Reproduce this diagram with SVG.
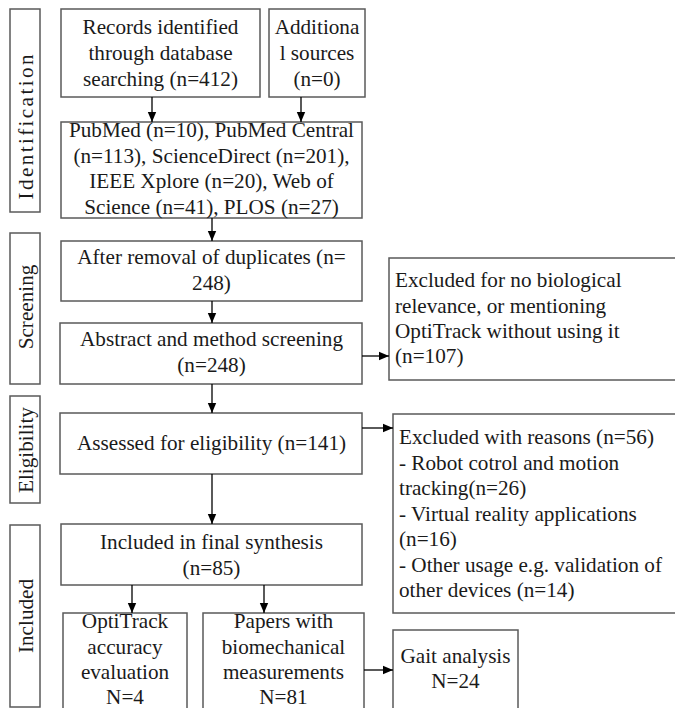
<svg xmlns="http://www.w3.org/2000/svg" width="675" height="708" viewBox="0 0 675 708">
<defs>
<style>
.b{fill:#fff;stroke:#5a5a5a;stroke-width:1.5}
.t{font-family:"Liberation Serif","Times New Roman",serif;font-size:21.2px;fill:#1a1a1a}
.c{text-anchor:middle}
.e{stroke:#000;stroke-width:1.3;fill:none}
</style>
<marker id="ah" markerWidth="10" markerHeight="10" refX="10" refY="5" orient="auto" markerUnits="userSpaceOnUse">
<path d="M0,0.8 L10,5 L0,9.2 Z" fill="#000"/>
</marker>
</defs>
<rect width="675" height="708" fill="#fff"/>
<g id="side-identification"><rect class="b" x="10" y="9" width="30" height="203"/><text class="t c" x="33" y="127" transform="rotate(-90 33 127)" textLength="145" lengthAdjust="spacing">Identification</text></g>
<g id="side-screening"><rect class="b" x="10" y="233" width="30" height="151"/><text class="t c" x="33" y="307" transform="rotate(-90 33 307)">Screening</text></g>
<g id="side-eligibility"><rect class="b" x="10" y="396" width="30" height="107"/><text class="t c" x="33" y="450" transform="rotate(-90 33 450)">Eligibility</text></g>
<g id="side-included"><rect class="b" x="10" y="525" width="30" height="182"/><text class="t c" x="33" y="616" transform="rotate(-90 33 616)">Included</text></g>

<g id="records"><rect class="b" x="61" y="9" width="199" height="88"/><text class="t c"><tspan x="160.5" y="34">Records identified</tspan><tspan x="160.5" y="60">through database</tspan><tspan x="160.5" y="86">searching (n=412)</tspan></text></g>
<g id="additional"><rect class="b" x="269" y="9" width="96" height="88"/><text class="t c"><tspan x="317" y="34">Additiona</tspan><tspan x="317" y="60">l sources</tspan><tspan x="317" y="86">(n=0)</tspan></text></g>
<g id="databases"><rect class="b" x="61" y="122" width="301" height="96"/><text class="t c"><tspan x="211.5" y="137">PubMed (n=10), PubMed Central</tspan><tspan x="211.5" y="162.5">(n=113), ScienceDirect (n=201),</tspan><tspan x="211.5" y="188">IEEE Xplore (n=20), Web of</tspan><tspan x="211.5" y="213.5">Science (n=41), PLOS (n=27)</tspan></text></g>
<g id="duplicates"><rect class="b" x="61" y="241" width="301" height="60"/><text class="t c"><tspan x="211.5" y="264">After removal of duplicates (n=</tspan><tspan x="211.5" y="290">248)</tspan></text></g>
<g id="abstract"><rect class="b" x="60" y="323" width="302" height="61"/><text class="t c"><tspan x="211.5" y="346">Abstract and method screening</tspan><tspan x="211.5" y="372">(n=248)</tspan></text></g>
<g id="excluded1"><rect class="b" x="389" y="258" width="300" height="122"/><text class="t"><tspan x="395" y="287">Excluded for no biological</tspan><tspan x="395" y="312.5">relevance, or mentioning</tspan><tspan x="395" y="338">OptiTrack without using it</tspan><tspan x="395" y="363">(n=107)</tspan></text></g>
<g id="assessed"><rect class="b" x="60" y="413" width="302" height="61"/><text class="t c"><tspan x="211.5" y="450">Assessed for eligibility (n=141)</tspan></text></g>
<g id="excluded2"><rect class="b" x="393" y="414" width="296" height="199"/><text class="t"><tspan x="399" y="444">Excluded with reasons (n=56)</tspan><tspan x="399" y="470">- Robot cotrol and motion</tspan><tspan x="399" y="495">tracking(n=26)</tspan><tspan x="399" y="521">- Virtual reality applications</tspan><tspan x="399" y="546">(n=16)</tspan><tspan x="399" y="572">- Other usage e.g. validation of</tspan><tspan x="399" y="597">other devices (n=14)</tspan></text></g>
<g id="included"><rect class="b" x="61" y="524" width="301" height="61"/><text class="t c"><tspan x="211.5" y="549">Included in final synthesis</tspan><tspan x="211.5" y="575">(n=85)</tspan></text></g>
<g id="accuracy"><rect class="b" x="63" y="613" width="124" height="110"/><text class="t c"><tspan x="125" y="628">OptiTrack</tspan><tspan x="125" y="653.5">accuracy</tspan><tspan x="125" y="679">evaluation</tspan><tspan x="125" y="704">N=4</tspan></text></g>
<g id="biomech"><rect class="b" x="203" y="613" width="161" height="110"/><text class="t c"><tspan x="283.5" y="628">Papers with</tspan><tspan x="283.5" y="653.5">biomechanical</tspan><tspan x="283.5" y="679">measurements</tspan><tspan x="283.5" y="704">N=81</tspan></text></g>
<g id="gait"><rect class="b" x="393" y="630" width="125" height="90"/><text class="t c"><tspan x="455.5" y="663">Gait analysis</tspan><tspan x="455.5" y="688">N=24</tspan></text></g>
<g id="connectors">
<line class="e" x1="152" y1="97" x2="152" y2="122" marker-end="url(#ah)"/>
<line class="e" x1="301" y1="97" x2="301" y2="122" marker-end="url(#ah)"/>
<line class="e" x1="212" y1="218" x2="212" y2="241" marker-end="url(#ah)"/>
<line class="e" x1="212" y1="301" x2="212" y2="323" marker-end="url(#ah)"/>
<line class="e" x1="212" y1="384" x2="212" y2="413" marker-end="url(#ah)"/>
<line class="e" x1="212" y1="474" x2="212" y2="524" marker-end="url(#ah)"/>
<line class="e" x1="362" y1="356" x2="389" y2="356" marker-end="url(#ah)"/>
<line class="e" x1="362" y1="428" x2="393" y2="428" marker-end="url(#ah)"/>
<line class="e" x1="132" y1="585" x2="132" y2="613" marker-end="url(#ah)"/>
<line class="e" x1="264" y1="585" x2="264" y2="613" marker-end="url(#ah)"/>
<line class="e" x1="364" y1="670" x2="393" y2="670" marker-end="url(#ah)"/>
</g>
</svg>
